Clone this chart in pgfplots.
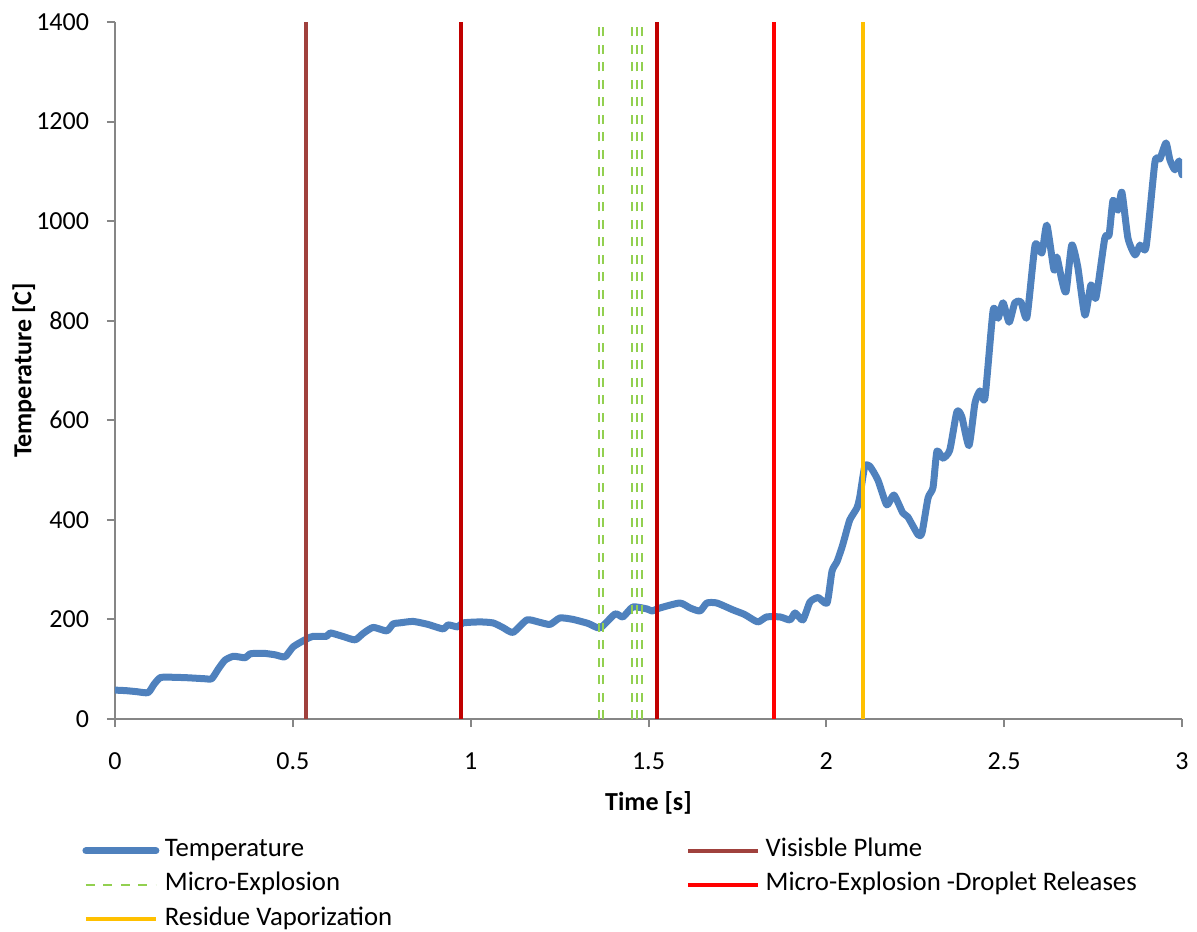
\documentclass[border=0pt]{standalone}
\usepackage{pgfplots}
\pgfplotsset{compat=1.18}
\usepackage{fontspec}
\setmainfont{Carlito}
\definecolor{tempblue}{HTML}{4F81BD}
\definecolor{plume}{HTML}{A0413D}
\definecolor{darkred}{HTML}{C00000}
\definecolor{brightred}{HTML}{FF0000}
\definecolor{resid}{HTML}{FFC000}
\definecolor{mgreen}{HTML}{92D050}
\definecolor{axgray}{HTML}{868686}
\begin{document}
\begin{tikzpicture}
\begin{axis}[
  name=ax,
  scale only axis,
  width=426.8pt, height=278.8pt,
  xmin=0, xmax=3, ymin=0, ymax=1400,
  xtick={0,0.5,...,3}, ytick={0,200,...,1400},
  xticklabels={0,0.5,1,1.5,2,2.5,3},
  axis x line*=bottom, axis y line*=left,
  axis line style={axgray, line width=0.8pt, -},
  tick style={axgray, line width=0.8pt},
  tick align=outside, major tick length=3.2pt,
  font=\fontsize{10.4pt}{12pt}\selectfont,
  /pgf/number format/assume math mode=true,
  /pgf/number format/1000 sep={},
  yticklabel style={font=\fontsize{10.4pt}{12pt}\selectfont, inner sep=0pt, xshift=-7pt},
  xticklabel style={font=\fontsize{10.4pt}{12pt}\selectfont, inner sep=0pt, yshift=-10pt},
  xlabel={\textbf{Time [s]}},
  ylabel={\textbf{Temperature [C]}},
  xlabel style={at={(axis description cs:0.5,-0.1205)}, anchor=center},
  ylabel style={at={(axis description cs:-0.0853,0.5)}, anchor=center},
  clip=true,
  legend columns=2,
  legend cell align=left,
  legend image code/.code={\draw[#1] (0pt,0pt) -- (28pt,0pt);},
  legend style={draw=none, fill=none, at={(axis description cs:-0.031,-0.1715)}, anchor=north west,
    font=\fontsize{10.7pt}{12pt}\selectfont, inner sep=0pt, row sep=4.3pt,
    nodes={inner xsep=2.2pt, inner ysep=0pt, text height=7pt, text depth=2.4pt},
    /tikz/column 2/.style={column sep=115.5pt}},
]
\addplot[tempblue, line width=2.8pt, line join=round, line cap=round, smooth, tension=0.35] coordinates {
(0.000,58) (0.03,57) (0.06,55) (0.093,53) (0.11,70) (0.127,83) (0.15,84) (0.20,83)
(0.25,81) (0.272,81) (0.29,100) (0.309,118) (0.333,126) (0.366,123) (0.38,131)
(0.417,132) (0.45,129) (0.478,125) (0.501,145) (0.534,159) (0.557,166) (0.595,166)
(0.605,173) (0.64,166) (0.675,159) (0.698,172) (0.726,184) (0.764,177) (0.782,191)
(0.80,193) (0.838,196) (0.88,190) (0.922,181) (0.937,189) (0.964,185) (0.978,193)
(1.026,195) (1.063,193) (1.09,184) (1.119,174) (1.158,199) (1.19,195) (1.223,190)
(1.251,203) (1.288,200) (1.33,192) (1.364,183) (1.406,211) (1.428,205) (1.456,225)
(1.496,221) (1.51,217) (1.532,223) (1.588,233) (1.617,223) (1.645,217) (1.664,233)
(1.692,233) (1.738,219) (1.77,210) (1.807,195) (1.832,205) (1.87,205) (1.898,199)
(1.912,213) (1.934,199) (1.954,235) (1.977,244) (2.002,233) (2.016,297) (2.030,316)
(2.044,345) (2.052,365) (2.066,400) (2.086,424) (2.094,446) (2.108,507) (2.122,508)
(2.145,480) (2.170,430) (2.190,450) (2.215,414) (2.229,406) (2.258,370) (2.269,374)
(2.286,444) (2.300,465) (2.311,538) (2.328,524) (2.347,540) (2.367,617) (2.381,607)
(2.401,549) (2.418,635) (2.432,659) (2.446,645) (2.469,821) (2.483,805) (2.497,836)
(2.514,797) (2.530,836) (2.547,838) (2.564,807) (2.587,952) (2.606,936) (2.620,992)
(2.640,902) (2.648,928) (2.662,882) (2.674,858) (2.690,952) (2.707,908) (2.727,811)
(2.744,872) (2.758,846) (2.783,966) (2.795,972) (2.806,1042) (2.820,1022) (2.831,1058)
(2.848,966) (2.868,932) (2.882,952) (2.899,948) (2.924,1119) (2.938,1125) (2.955,1157)
(2.966,1123) (2.980,1103) (2.992,1121) (3.000,1093)
};
\addlegendentry{Temperature}
\addplot[plume, line width=1.5pt] coordinates {(0.537,0) (0.537,1400)};
\addlegendentry{Visisble Plume}
\addplot[mgreen, line width=1pt, dash pattern=on 3.6pt off 3.4pt] coordinates {(1.3615,0) (1.3615,1400)};
\addlegendentry{Micro-Explosion}
\addplot[mgreen, line width=1pt, dash pattern=on 3.6pt off 3.4pt, forget plot] coordinates {(1.3725,0) (1.3725,1400)};
\addplot[mgreen, line width=1pt, dash pattern=on 3.6pt off 3.4pt, forget plot] coordinates {(1.4535,0) (1.4535,1400)};
\addplot[mgreen, line width=1pt, dash pattern=on 3.6pt off 3.4pt, forget plot] coordinates {(1.4675,0) (1.4675,1400)};
\addplot[mgreen, line width=1pt, dash pattern=on 3.6pt off 3.4pt, forget plot] coordinates {(1.4816,0) (1.4816,1400)};
\addplot[darkred, line width=1.5pt, forget plot] coordinates {(0.972,0) (0.972,1400)};
\addplot[darkred, line width=1.5pt, forget plot] coordinates {(1.523,0) (1.523,1400)};
\addplot[brightred, line width=1.5pt] coordinates {(1.852,0) (1.852,1400)};
\addlegendentry{Micro-Explosion -Droplet Releases}
\addplot[resid, line width=1.5pt] coordinates {(2.104,0) (2.104,1400)};
\addlegendentry{Residue Vaporization}
\coordinate (O) at (rel axis cs:0,0);
\end{axis}
\pgfresetboundingbox
\path (O) ++(-46pt,-84.8pt) rectangle ++(478.8pt,372.4pt);
\end{tikzpicture}
\end{document}
